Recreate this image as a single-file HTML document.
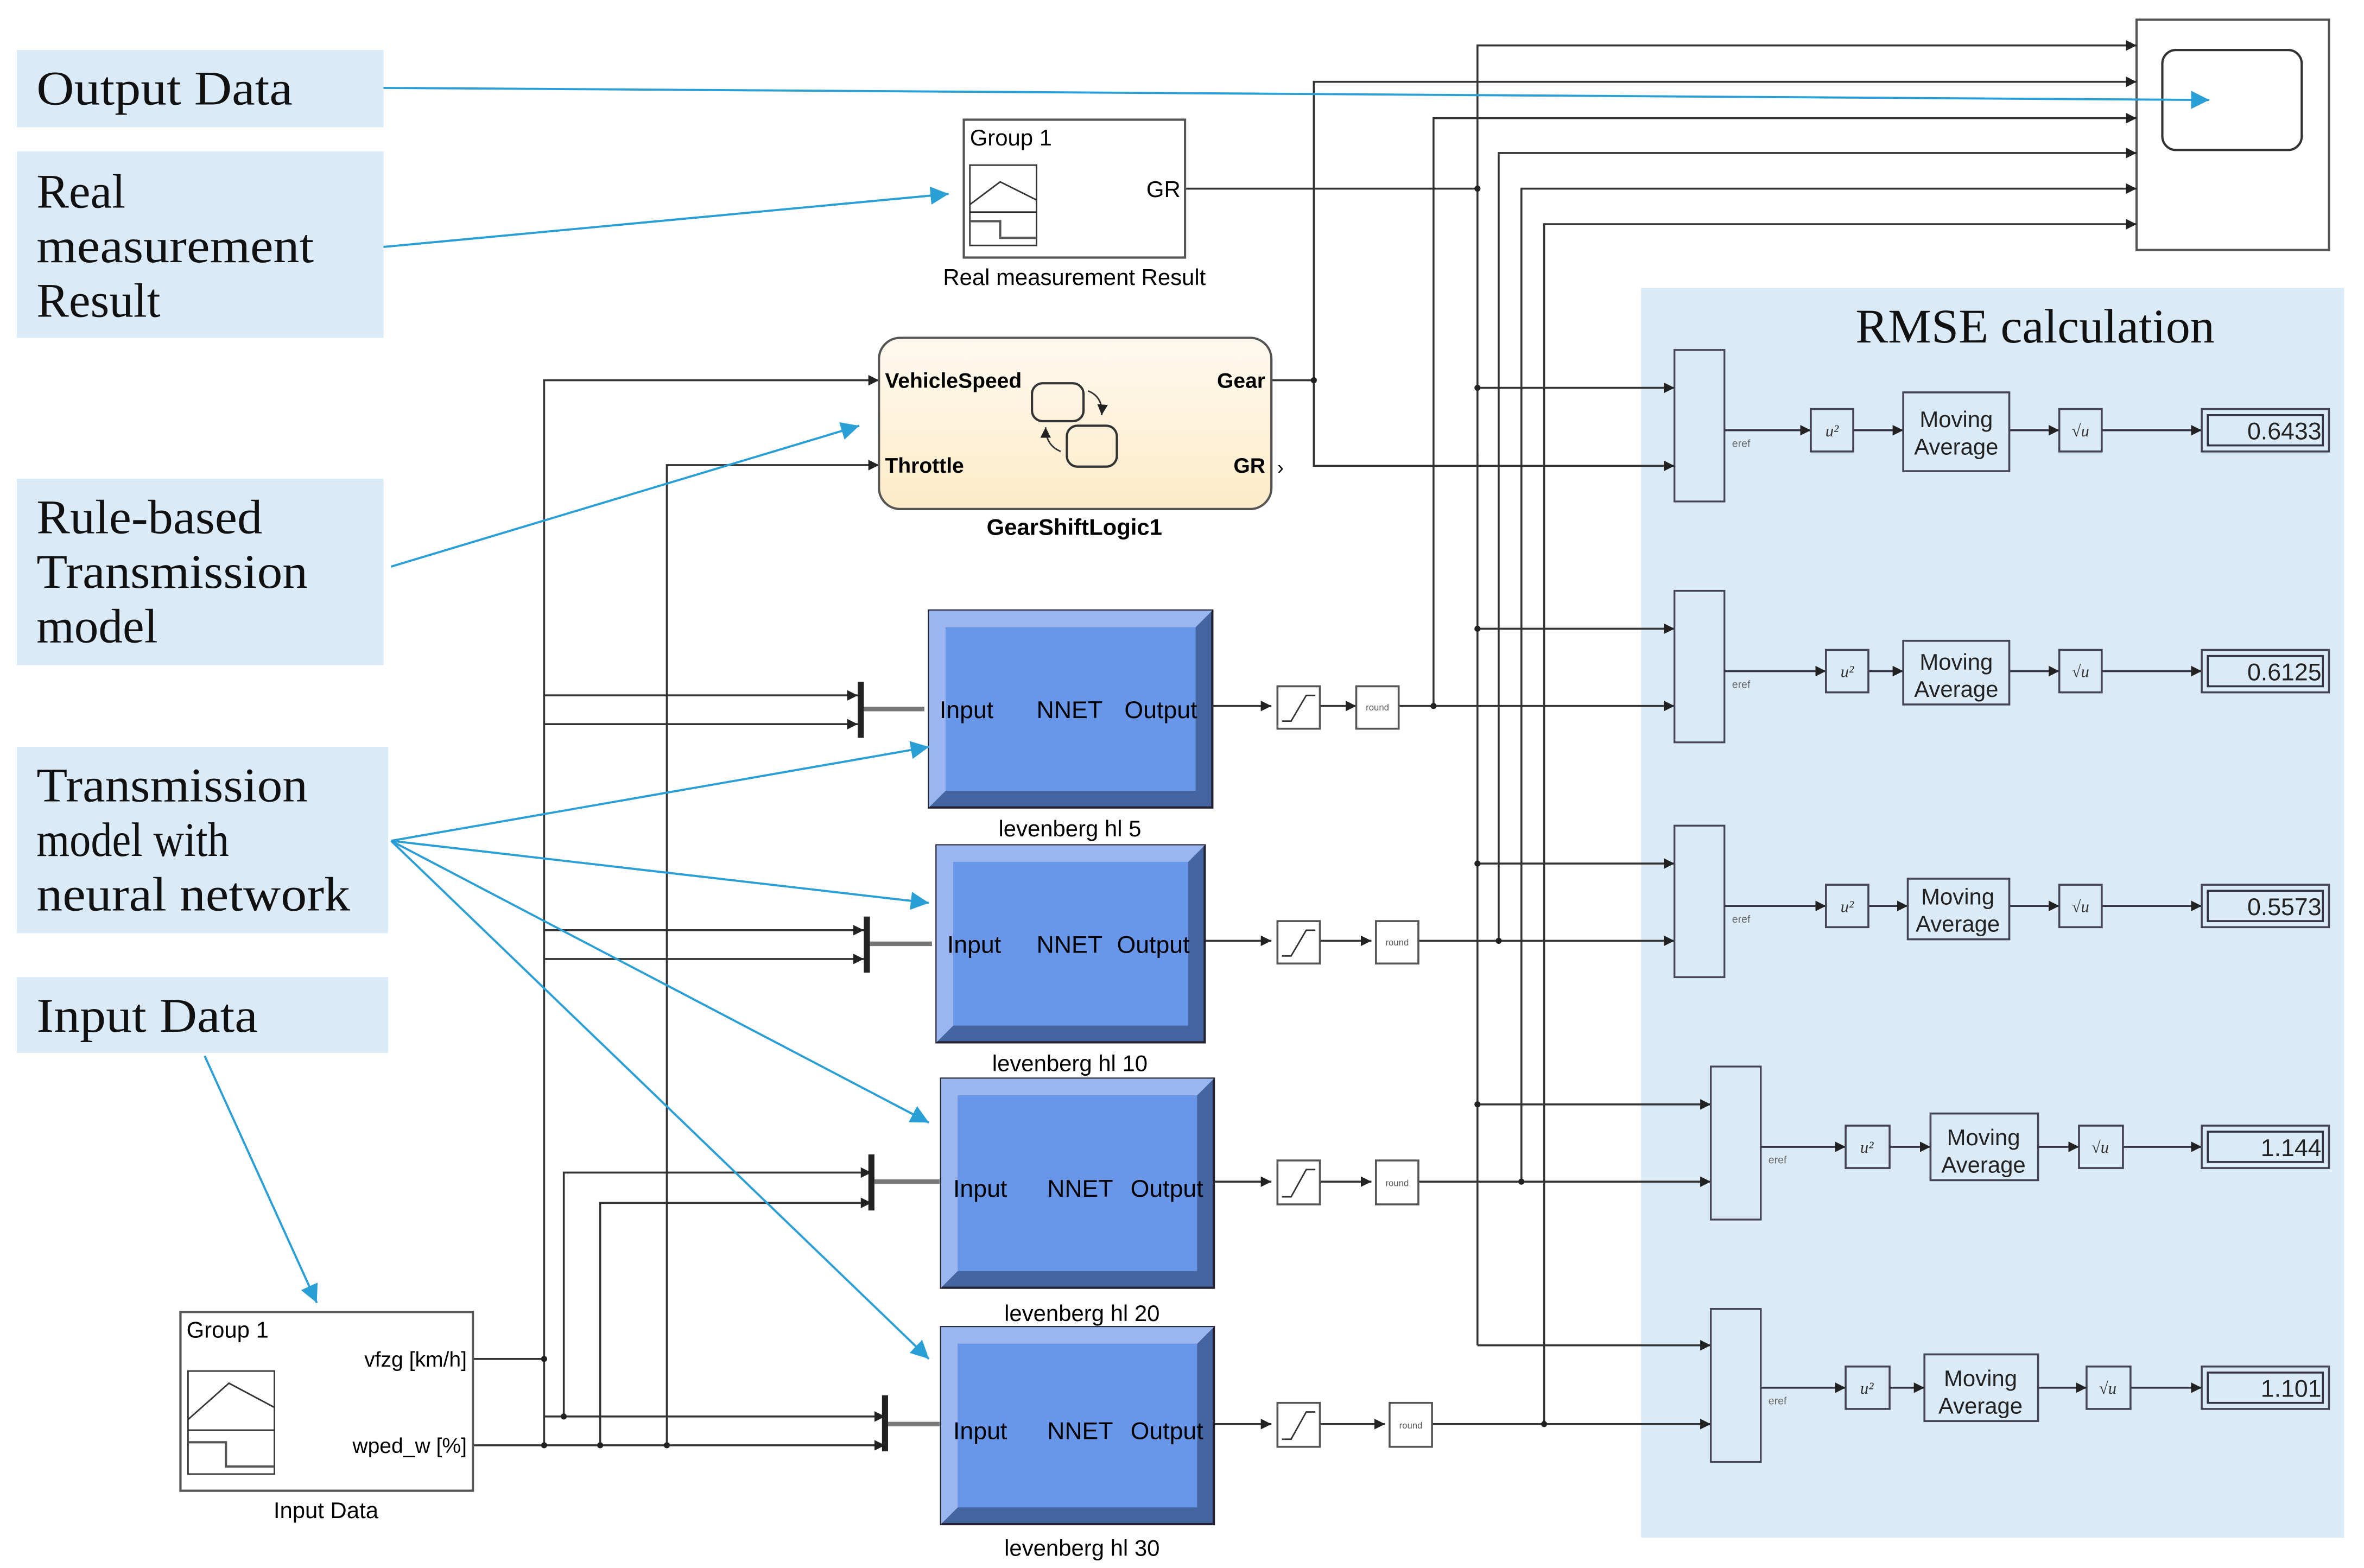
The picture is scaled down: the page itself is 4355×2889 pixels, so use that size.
<!DOCTYPE html>
<html><head><meta charset="utf-8"><style>
html,body{margin:0;padding:0;background:#fff;}
svg{display:block;}
.s{font-family:"Liberation Sans",sans-serif;}
.r{font-family:"Liberation Serif",serif;}
</style></head><body>
<svg width="4355" height="2889" viewBox="0 0 1560 1035" xmlns="http://www.w3.org/2000/svg">
<defs>
<marker id="a" markerWidth="8" markerHeight="8" refX="7" refY="4" orient="auto" markerUnits="userSpaceOnUse"><path d="M0,0.5 L7,4 L0,7.5z" fill="#222"/></marker>
<marker id="b" markerWidth="14" markerHeight="14" refX="12" refY="6" orient="auto" markerUnits="userSpaceOnUse"><path d="M0,0 L12,6 L0,12z" fill="#2a9fd6"/></marker>
<linearGradient id="g" x1="0" y1="0" x2="0" y2="1"><stop offset="0" stop-color="#fef9ef"/><stop offset="1" stop-color="#fdebc8"/></linearGradient>
</defs>
<rect width="1560" height="1035" fill="#fff"/>
<g fill="#daeaf7">
<rect x="11" y="33" width="242" height="51"/>
<rect x="11" y="100" width="242" height="123"/>
<rect x="11" y="316" width="242" height="123"/>
<rect x="11" y="493" width="245" height="123"/>
<rect x="11" y="645" width="245" height="50"/>
</g>
<g class="r" font-size="32" fill="#111">
<text x="24" y="69" textLength="169" lengthAdjust="spacingAndGlyphs">Output Data</text>
<text x="24" y="137">Real</text><text x="24" y="173" textLength="183" lengthAdjust="spacingAndGlyphs">measurement</text><text x="24" y="209">Result</text>
<text x="24" y="352" textLength="149" lengthAdjust="spacingAndGlyphs">Rule-based</text><text x="24" y="388" textLength="179" lengthAdjust="spacingAndGlyphs">Transmission</text><text x="24" y="424">model</text>
<text x="24" y="529" textLength="179" lengthAdjust="spacingAndGlyphs">Transmission</text><text x="24" y="565" textLength="127" lengthAdjust="spacingAndGlyphs">model with</text><text x="24" y="601" textLength="207" lengthAdjust="spacingAndGlyphs">neural network</text>
<text x="24" y="681" textLength="146" lengthAdjust="spacingAndGlyphs">Input Data</text>
</g>
<rect x="1083" y="190" width="464" height="825" fill="#daeaf7"/>
<text class="r" x="1343" y="226" font-size="32" text-anchor="middle" fill="#111" textLength="237" lengthAdjust="spacingAndGlyphs">RMSE calculation</text>
<rect x="1410" y="13" width="127" height="152" fill="#fff" stroke="#555" stroke-width="1.5"/>
<rect x="1427" y="33" width="92" height="66" rx="9" fill="#fff" stroke="#333" stroke-width="1.5"/>

<g stroke="#333" stroke-width="1.3" fill="none">
<polyline points="975,308 975,30 1410,30" marker-end="url(#a)"/>
<polyline points="867,252 867,54 1410,54" marker-end="url(#a)"/>
<polyline points="946,466 946,78 1410,78" marker-end="url(#a)"/>
<polyline points="989,621 989,101 1410,101" marker-end="url(#a)"/>
<polyline points="1004,780 1004,124.5 1410,124.5" marker-end="url(#a)"/>
<polyline points="1019,940 1019,148 1410,148" marker-end="url(#a)"/>
<line x1="975" y1="300" x2="975" y2="888"/>
<line x1="782" y1="124.5" x2="975" y2="124.5"/>
<line x1="839" y1="251" x2="867" y2="251"/>
<polyline points="867,251 867,307.5 1105,307.5" marker-end="url(#a)"/>
<line x1="975" y1="256" x2="1105" y2="256" marker-end="url(#a)"/>
<line x1="975" y1="415" x2="1105" y2="415" marker-end="url(#a)"/>
<line x1="975" y1="570" x2="1105" y2="570" marker-end="url(#a)"/>
<line x1="975" y1="729" x2="1129" y2="729" marker-end="url(#a)"/>
<line x1="975" y1="888" x2="1129" y2="888" marker-end="url(#a)"/>
<line x1="800" y1="466" x2="839" y2="466" marker-end="url(#a)"/>
<line x1="868" y1="466" x2="895" y2="466" marker-end="url(#a)"/>
<line x1="923" y1="466" x2="1105" y2="466" marker-end="url(#a)"/>
<line x1="795" y1="621" x2="839" y2="621" marker-end="url(#a)"/>
<line x1="868" y1="621" x2="905" y2="621" marker-end="url(#a)"/>
<line x1="933" y1="621" x2="1105" y2="621" marker-end="url(#a)"/>
<line x1="801" y1="780" x2="839" y2="780" marker-end="url(#a)"/>
<line x1="868" y1="780" x2="905" y2="780" marker-end="url(#a)"/>
<line x1="933" y1="780" x2="1129" y2="780" marker-end="url(#a)"/>
<line x1="801" y1="940" x2="839" y2="940" marker-end="url(#a)"/>
<line x1="868" y1="940" x2="914" y2="940" marker-end="url(#a)"/>
<line x1="943" y1="940" x2="1129" y2="940" marker-end="url(#a)"/>
<polyline points="359,897 359,251 580,251" marker-end="url(#a)"/>
<line x1="312" y1="897" x2="359" y2="897"/>
<line x1="359" y1="897" x2="359" y2="954"/>
<polyline points="440,954 440,307 580,307" marker-end="url(#a)"/>
<line x1="312" y1="954" x2="584" y2="954" marker-end="url(#a)"/>
<line x1="359" y1="459" x2="566" y2="459" marker-end="url(#a)"/>
<line x1="359" y1="478" x2="566" y2="478" marker-end="url(#a)"/>
<line x1="359" y1="614" x2="570" y2="614" marker-end="url(#a)"/>
<line x1="359" y1="633" x2="570" y2="633" marker-end="url(#a)"/>
<polyline points="372,935 372,774 575,774" marker-end="url(#a)"/>
<polyline points="396,954 396,794 575,794" marker-end="url(#a)"/>
<line x1="359" y1="935" x2="584" y2="935" marker-end="url(#a)"/>
</g>
<g fill="#222">
<circle cx="975" cy="124.5" r="2"/><circle cx="867" cy="251" r="2"/><circle cx="975" cy="256" r="2"/><circle cx="975" cy="415" r="2"/><circle cx="975" cy="570" r="2"/><circle cx="975" cy="729" r="2"/>
<circle cx="946" cy="466" r="2"/><circle cx="989" cy="621" r="2"/><circle cx="1004" cy="780" r="2"/><circle cx="1019" cy="940" r="2"/>
<circle cx="359" cy="897" r="2"/><circle cx="359" cy="954" r="2"/><circle cx="396" cy="954" r="2"/><circle cx="440" cy="954" r="2"/><circle cx="372" cy="935" r="2"/>
<rect x="566" y="450" width="4" height="37"/>
<rect x="570" y="605" width="4" height="37"/>
<rect x="573" y="762" width="4" height="37"/>
<rect x="582" y="921" width="4" height="37"/>
</g>
<g stroke="#777" stroke-width="3">
<line x1="570" y1="468" x2="610" y2="468"/><line x1="574" y1="623" x2="615" y2="623"/><line x1="577" y1="780" x2="620" y2="780"/><line x1="586" y1="940" x2="620" y2="940"/>
</g>
<rect x="636" y="79" width="146" height="91" fill="#fff" stroke="#555" stroke-width="1.5"/>
<text class="s" x="640" y="96" font-size="15">Group 1</text>
<rect x="640" y="109" width="44" height="53" fill="#fff" stroke="#333"/>
<polyline points="640,135 660,120 684,132" fill="none" stroke="#333"/>
<line x1="640" y1="140" x2="684" y2="140" stroke="#222"/>
<polyline points="640,146 660,146 660,157 684,157" fill="none" stroke="#555" stroke-width="1.5"/>
<text class="s" x="779" y="130" font-size="15" text-anchor="end">GR</text>
<text class="s" x="709" y="188" font-size="15" text-anchor="middle">Real measurement Result</text>
<rect x="580" y="223" width="259" height="113" rx="14" fill="url(#g)" stroke="#555" stroke-width="1.5"/>
<g class="s" font-size="14" font-weight="bold">
<text x="584" y="256">VehicleSpeed</text><text x="584" y="312">Throttle</text>
<text x="835" y="256" text-anchor="end">Gear</text><text x="835" y="312" text-anchor="end">GR</text>
</g>
<text class="s" x="845" y="313" font-size="13" text-anchor="middle">›</text>
<rect x="681" y="253" width="34" height="25" rx="7" fill="none" stroke="#333" stroke-width="1.5"/>
<rect x="704" y="281" width="33" height="27" rx="7" fill="none" stroke="#333" stroke-width="1.5"/>
<path d="M718,258 Q728,262 727,274" fill="none" stroke="#333" marker-end="url(#a)"/>
<path d="M700,298 Q690,294 690,282" fill="none" stroke="#333" marker-end="url(#a)"/>
<text class="s" x="709" y="353" font-size="15" font-weight="bold" text-anchor="middle">GearShiftLogic1</text>
<g>
<rect x="613" y="403" width="187" height="130" fill="#4465a0" stroke="#223" stroke-width="1.5"/>
<polygon points="613,403 800,403 789,414 624,414 624,522 613,533" fill="#9bb5ee"/>
<rect x="624" y="414" width="165" height="108" fill="#6896e8"/>
<text class="s" x="620" y="474" font-size="16">Input</text><text class="s" x="684" y="474" font-size="16">NNET</text><text class="s" x="742" y="474" font-size="16">Output</text>
<text class="s" x="706" y="552" font-size="15" text-anchor="middle">levenberg  hl 5</text>

<rect x="618" y="558" width="177" height="130" fill="#4465a0" stroke="#223" stroke-width="1.5"/>
<polygon points="618,558 795,558 784,569 629,569 629,677 618,688" fill="#9bb5ee"/>
<rect x="629" y="569" width="155" height="108" fill="#6896e8"/>
<text class="s" x="625" y="629" font-size="16">Input</text><text class="s" x="684" y="629" font-size="16">NNET</text><text class="s" x="737" y="629" font-size="16">Output</text>
<text class="s" x="706" y="707" font-size="15" text-anchor="middle">levenberg  hl 10</text>

<rect x="621" y="712" width="180" height="138" fill="#4465a0" stroke="#223" stroke-width="1.5"/>
<polygon points="621,712 801,712 790,723 632,723 632,839 621,850" fill="#9bb5ee"/>
<rect x="632" y="723" width="158" height="116" fill="#6896e8"/>
<text class="s" x="629" y="790" font-size="16">Input</text><text class="s" x="691" y="790" font-size="16">NNET</text><text class="s" x="746" y="790" font-size="16">Output</text>
<text class="s" x="714" y="872" font-size="15" text-anchor="middle">levenberg  hl 20</text>

<rect x="621" y="876" width="180" height="130" fill="#4465a0" stroke="#223" stroke-width="1.5"/>
<polygon points="621,876 801,876 790,887 632,887 632,995 621,1006" fill="#9bb5ee"/>
<rect x="632" y="887" width="158" height="108" fill="#6896e8"/>
<text class="s" x="629" y="950" font-size="16">Input</text><text class="s" x="691" y="950" font-size="16">NNET</text><text class="s" x="746" y="950" font-size="16">Output</text>
<text class="s" x="714" y="1027" font-size="15" text-anchor="middle">levenberg  hl 30</text>
</g>
<g fill="#fff" stroke="#555" stroke-width="1.3">
<rect x="843" y="453" width="28" height="28"/><rect x="895" y="453" width="28" height="28"/>
<rect x="843" y="608" width="28" height="28"/><rect x="908" y="608" width="28" height="28"/>
<rect x="843" y="766" width="28" height="29"/><rect x="908" y="766" width="28" height="29"/>
<rect x="843" y="926" width="28" height="29"/><rect x="917" y="926" width="28" height="29"/>
</g>
<g fill="none" stroke="#333" stroke-width="1">
<polyline points="846,476 852,476 862,459 868,459"/><polyline points="846,631 852,631 862,614 868,614"/><polyline points="846,790 852,790 862,772 868,772"/><polyline points="846,950 852,950 862,932 868,932"/>
</g>
<g class="s" font-size="6" fill="#555" text-anchor="middle">
<text x="909" y="469">round</text><text x="922" y="624">round</text><text x="922" y="783">round</text><text x="931" y="943">round</text>
</g>
<rect x="119" y="866" width="193" height="118" fill="#fff" stroke="#555" stroke-width="1.5"/>
<text class="s" x="123" y="883" font-size="15">Group 1</text>
<rect x="124" y="905" width="57" height="68" fill="#fff" stroke="#333"/>
<polyline points="124,937 151,913 181,929" fill="none" stroke="#333"/>
<line x1="124" y1="944" x2="181" y2="944" stroke="#333"/>
<polyline points="124,952 149,952 149,968 181,968" fill="none" stroke="#555" stroke-width="1.5"/>
<text class="s" x="308" y="902" font-size="14" text-anchor="end">vfzg [km/h]</text>
<text class="s" x="308" y="959" font-size="14" text-anchor="end">wped_w [%]</text>
<text class="s" x="215" y="1002" font-size="15" text-anchor="middle">Input Data</text>
<g fill="none" stroke="#445" stroke-width="1.2">
<rect x="1105" y="231" width="33" height="100"/><rect x="1105" y="390" width="33" height="100"/><rect x="1105" y="545" width="33" height="100"/>
<rect x="1129" y="704" width="33" height="101"/><rect x="1129" y="864" width="33" height="101"/>
</g>
<g fill="none" stroke="#334" stroke-width="1.3">
<line x1="1138" y1="284" x2="1195" y2="284" marker-end="url(#a)"/><line x1="1223" y1="284" x2="1256" y2="284" marker-end="url(#a)"/><line x1="1326" y1="284" x2="1359" y2="284" marker-end="url(#a)"/><line x1="1387" y1="284" x2="1453" y2="284" marker-end="url(#a)"/>
<line x1="1138" y1="443" x2="1205" y2="443" marker-end="url(#a)"/><line x1="1233" y1="443" x2="1256" y2="443" marker-end="url(#a)"/><line x1="1326" y1="443" x2="1359" y2="443" marker-end="url(#a)"/><line x1="1387" y1="443" x2="1453" y2="443" marker-end="url(#a)"/>
<line x1="1138" y1="598" x2="1205" y2="598" marker-end="url(#a)"/><line x1="1233" y1="598" x2="1259" y2="598" marker-end="url(#a)"/><line x1="1326" y1="598" x2="1359" y2="598" marker-end="url(#a)"/><line x1="1387" y1="598" x2="1453" y2="598" marker-end="url(#a)"/>
<line x1="1162" y1="757" x2="1218" y2="757" marker-end="url(#a)"/><line x1="1247" y1="757" x2="1274" y2="757" marker-end="url(#a)"/><line x1="1345" y1="757" x2="1372" y2="757" marker-end="url(#a)"/><line x1="1401" y1="757" x2="1453" y2="757" marker-end="url(#a)"/>
<line x1="1162" y1="916" x2="1218" y2="916" marker-end="url(#a)"/><line x1="1247" y1="916" x2="1270" y2="916" marker-end="url(#a)"/><line x1="1345" y1="916" x2="1377" y2="916" marker-end="url(#a)"/><line x1="1406" y1="916" x2="1453" y2="916" marker-end="url(#a)"/>
</g>
<g fill="#daeaf7" stroke="#445" stroke-width="1.3">
<rect x="1195" y="270" width="28" height="28"/><rect x="1256" y="259" width="70" height="52"/><rect x="1359" y="270" width="28" height="28"/><rect x="1453" y="270" width="84" height="28"/>
<rect x="1205" y="429" width="28" height="28"/><rect x="1256" y="423" width="70" height="42"/><rect x="1359" y="429" width="28" height="28"/><rect x="1453" y="429" width="84" height="28"/>
<rect x="1205" y="584" width="28" height="28"/><rect x="1259" y="580" width="67" height="40"/><rect x="1359" y="584" width="28" height="28"/><rect x="1453" y="584" width="84" height="28"/>
<rect x="1218" y="743" width="29" height="28"/><rect x="1274" y="735" width="71" height="44"/><rect x="1372" y="743" width="29" height="28"/><rect x="1453" y="743" width="84" height="28"/>
<rect x="1218" y="902" width="29" height="28"/><rect x="1270" y="894" width="75" height="44"/><rect x="1377" y="902" width="29" height="28"/><rect x="1453" y="902" width="84" height="28"/>
</g>
<g fill="none" stroke="#334" stroke-width="1.3">
<rect x="1457" y="274" width="76" height="20"/><rect x="1457" y="433" width="76" height="20"/><rect x="1457" y="588" width="76" height="20"/><rect x="1457" y="747" width="76" height="20"/><rect x="1457" y="906" width="76" height="20"/>
</g>
<g class="s" font-size="16" fill="#222" text-anchor="end">
<text x="1532" y="290">0.6433</text><text x="1532" y="449">0.6125</text><text x="1532" y="604">0.5573</text><text x="1532" y="763">1.144</text><text x="1532" y="922">1.101</text>
</g>
<g class="s" font-size="15" fill="#222" text-anchor="middle">
<text x="1291" y="282">Moving</text><text x="1291" y="300">Average</text>
<text x="1291" y="442">Moving</text><text x="1291" y="460">Average</text>
<text x="1292" y="597">Moving</text><text x="1292" y="615">Average</text>
<text x="1309" y="756">Moving</text><text x="1309" y="774">Average</text>
<text x="1307" y="915">Moving</text><text x="1307" y="933">Average</text>
</g>
<g class="r" font-size="11" font-style="italic" fill="#333" text-anchor="middle">
<text x="1209" y="288">u²</text><text x="1219" y="447">u²</text><text x="1219" y="602">u²</text><text x="1232" y="761">u²</text><text x="1232" y="920">u²</text>
<text x="1373" y="288">√u</text><text x="1373" y="447">√u</text><text x="1373" y="602">√u</text><text x="1386" y="761">√u</text><text x="1391" y="920">√u</text>
</g>
<g class="s" font-size="7" fill="#666">
<text x="1143" y="295">eref</text><text x="1143" y="454">eref</text><text x="1143" y="609">eref</text><text x="1167" y="768">eref</text><text x="1167" y="927">eref</text>
</g>
<g stroke="#2a9fd6" stroke-width="1.4" fill="none" marker-end="url(#b)">
<line x1="253" y1="58" x2="1458" y2="66"/>
<line x1="253" y1="163" x2="626" y2="128"/>
<line x1="258" y1="374" x2="567" y2="281"/>
<line x1="258" y1="555" x2="613" y2="493"/>
<line x1="258" y1="555" x2="613" y2="596"/>
<line x1="258" y1="555" x2="613" y2="741"/>
<line x1="258" y1="555" x2="613" y2="897"/>
<line x1="135" y1="697" x2="209" y2="860"/>
</g>
</svg>
</body></html>
